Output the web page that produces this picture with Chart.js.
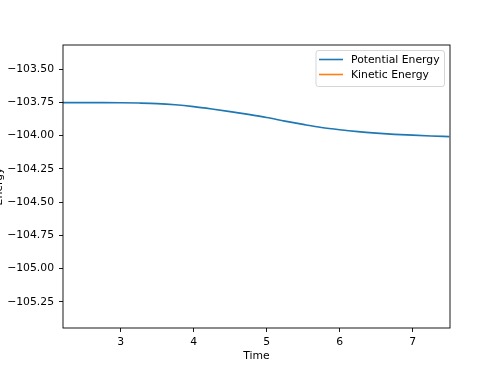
<!DOCTYPE html>
<html>
<head>
<meta charset="utf-8">
<script src="https://cdn.jsdelivr.net/npm/chart.js@4"></script>
<style>
  html, body { margin: 0; padding: 0; background: #fff; overflow: hidden; }
  canvas { display: block; }
</style>
</head>
<body>
<canvas id="myChart" width="500" height="369"></canvas>
<script>
// data
const times = [2.2, 2.5, 2.75, 3.0, 3.25, 3.5, 3.75, 4.0, 4.25, 4.5, 4.75, 5.0, 5.25, 5.5, 5.75, 6.0, 6.25, 6.5, 6.75, 7.0, 7.25, 7.5];
const potentialEnergy = [-103.752, -103.752, -103.752, -103.753, -103.755, -103.759, -103.768, -103.782, -103.800, -103.820, -103.841, -103.864, -103.891, -103.916, -103.939, -103.956, -103.970, -103.981, -103.990, -103.997, -104.003, -104.007];
const kineticEnergy = []; // not visible in the plotted range
const xTicks = [3, 4, 5, 6, 7];
const yTicks = [-103.5, -103.75, -104.0, -104.25, -104.5, -104.75, -105.0, -105.25];

const FONT = { family: "'DejaVu Sans', sans-serif", size: 10.8 };

// full box frame like matplotlib spines
const framePlugin = {
  id: 'frame',
  afterDraw(chart) {
    const { ctx, chartArea: a } = chart;
    ctx.save();
    ctx.strokeStyle = '#000';
    ctx.lineWidth = 0.9;
    ctx.strokeRect(a.left, a.top, a.right - a.left, a.bottom - a.top);
    ctx.restore();
  }
};

// legend box inside the upper right corner
const legendPlugin = {
  id: 'innerLegend',
  afterDraw(chart) {
    const { ctx, chartArea: a } = chart;
    const sets = chart.data.datasets;
    const x0 = a.right - 134, y0 = a.top + 5.5;
    const w = 128.5, h = 36;
    ctx.save();
    ctx.fillStyle = 'rgba(255,255,255,0.8)';
    ctx.strokeStyle = 'rgba(204,204,204,0.8)';
    ctx.lineWidth = 1;
    ctx.beginPath();
    ctx.roundRect(x0, y0, w, h, 2.5);
    ctx.fill();
    ctx.stroke();
    ctx.font = FONT.size + "px " + FONT.family;
    ctx.textBaseline = 'middle';
    ctx.textAlign = 'left';
    sets.forEach(function (ds, i) {
      const y = y0 + 9 + i * 15;
      ctx.strokeStyle = ds.borderColor;
      ctx.lineWidth = 1.6;
      ctx.beginPath();
      ctx.moveTo(x0 + 3, y);
      ctx.lineTo(x0 + 27, y);
      ctx.stroke();
      ctx.fillStyle = '#000';
      ctx.fillText(ds.label, x0 + 35, y + 0.5);
    });
    ctx.restore();
  }
};

const ctx = document.getElementById("myChart").getContext("2d");
const chart = new Chart(ctx, {
  type: "line",
  data: {
    datasets: [
      {
        label: "Potential Energy",
        data: times.map((t, i) => ({ x: t, y: potentialEnergy[i] })),
        borderColor: "#1f77b4",
        backgroundColor: "#1f77b4",
        borderWidth: 1.7,
        pointRadius: 0,
        cubicInterpolationMode: "monotone",
      },
      {
        label: "Kinetic Energy",
        data: kineticEnergy,
        borderColor: "#ff7f0e",
        backgroundColor: "#ff7f0e",
        borderWidth: 1.7,
        pointRadius: 0,
      },
    ],
  },
  options: {
    responsive: false,
    animation: false,
    events: [],
    layout: { padding: { left: 0, right: 50, top: 45, bottom: 0 } },
    plugins: { legend: { display: false }, tooltip: { enabled: false } },
    scales: {
      x: {
        type: "linear",
        min: 2.212,
        max: 7.51,
        afterBuildTicks: (s) => { s.ticks = xTicks.map(v => ({ value: v })); },
        afterFit: (s) => { s.height = 41; },
        grid: { drawOnChartArea: false, color: "#000", lineWidth: 0.9, tickLength: 4 },
        border: { display: false },
        ticks: { color: "#000", font: FONT, padding: 4, maxRotation: 0 },
        title: { display: true, text: "Time", color: "#000", font: FONT, padding: { top: 0, bottom: 6.5 } },
      },
      y: {
        min: -105.446,
        max: -103.319,
        afterBuildTicks: (s) => { s.ticks = yTicks.map(v => ({ value: v })); },
        afterFit: (s) => { s.width = 63; },
        grid: { drawOnChartArea: false, color: "#000", lineWidth: 0.9, tickLength: 4 },
        border: { display: false },
        ticks: {
          color: "#000", font: FONT, padding: 5,
          callback: (v) => v.toFixed(2).replace("-", "\u2212"),
        },
        title: { display: true, text: "Energy", color: "#000", font: FONT, padding: { top: -7, bottom: 0 } },
      },
    },
  },
  plugins: [framePlugin, legendPlugin],
});
</script>
</body>
</html>
